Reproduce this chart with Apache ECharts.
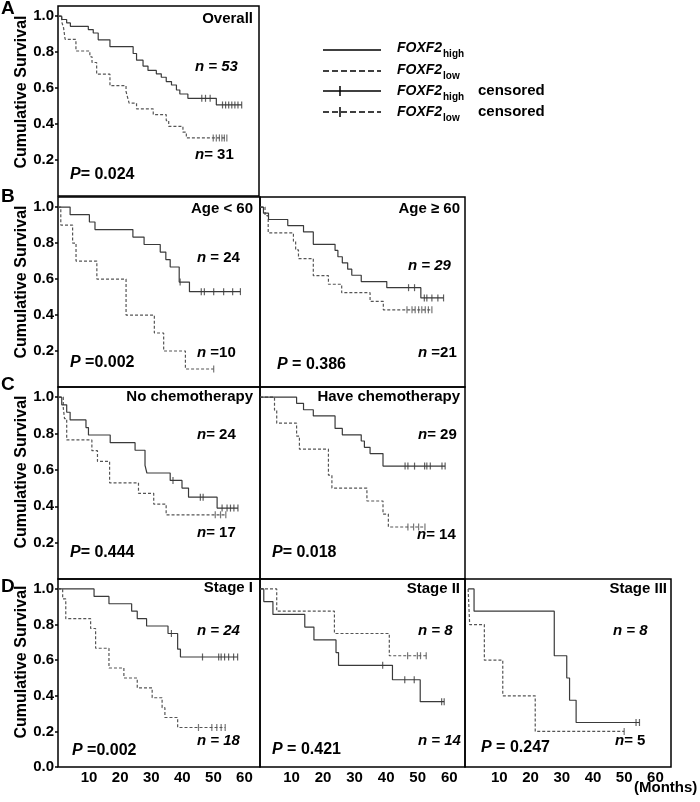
<!DOCTYPE html>
<html><head><meta charset="utf-8">
<script src="https://cdn.jsdelivr.net/npm/echarts@6/dist/echarts.min.js"></script>
<style>html,body{margin:0;padding:0;background:#fff}#c{width:700px;height:802px}</style>
</head><body><div id="c"></div>
<script>
// ---------------- DATA (months, cumulative survival) ----------------
const xTicks = [10, 20, 30, 40, 50, 60];
const yTicks = [0.2, 0.4, 0.6, 0.8, 1.0];
const yTicksD = [0.0, 0.2, 0.4, 0.6, 0.8, 1.0];

// A: Overall
const A_hi_t = [1.2, 2.8, 4.0, 9.8, 11.4, 13.0, 16.8, 24.3, 25.4, 27.5, 29.1, 31.8, 33.4, 35.0, 36.7, 38.3, 39.4, 42.0, 51.2];
const A_hi_s = [0.981, 0.962, 0.943, 0.925, 0.906, 0.868, 0.830, 0.792, 0.755, 0.722, 0.698, 0.679, 0.660, 0.636, 0.617, 0.589, 0.567, 0.543, 0.506];
const A_hi_c = [46.5, 47.7, 49.2, 53.2, 54.2, 55.2, 56.2, 57.2, 58.2, 59.4];
const A_lo_t = [1.2, 1.8, 2.3, 5.8, 10.3, 11.0, 12.5, 16.8, 22.0, 22.5, 23.0, 25.4, 30.8, 35.0, 35.8, 40.4, 41.5];
const A_lo_s = [0.968, 0.935, 0.871, 0.806, 0.774, 0.742, 0.677, 0.613, 0.581, 0.548, 0.516, 0.484, 0.452, 0.419, 0.387, 0.355, 0.323];
const A_lo_c = [50.2, 51.2, 52.2, 53.0, 53.8, 54.6];

// B1: Age < 60
const B1_hi_t = [3.9, 10.1, 11.9, 24.1, 27.7, 32.9, 34.7, 36.1, 39.0, 42.3];
const B1_hi_s = [0.958, 0.917, 0.875, 0.833, 0.792, 0.750, 0.708, 0.667, 0.583, 0.530];
const B1_hi_c = [39.3, 46.1, 47.1, 50.1, 53.3, 56.2, 58.7];
const B1_lo_t = [0.9, 4.7, 5.8, 12.5, 21.9, 31.0, 34.0, 41.0];
const B1_lo_s = [0.9, 0.8, 0.7, 0.6, 0.4, 0.3, 0.2, 0.1];
const B1_lo_c = [50.1];

// B2: Age >= 60
const B2_hi_t = [1.1, 2.7, 8.8, 13.8, 16.9, 23.8, 24.7, 26.1, 27.8, 29.1, 32.1, 40.2, 51.0];
const B2_hi_s = [0.966, 0.931, 0.897, 0.862, 0.793, 0.759, 0.724, 0.690, 0.655, 0.621, 0.586, 0.552, 0.495];
const B2_hi_c = [47.1, 49.0, 52.1, 52.9, 54.5, 56.4, 58.2];
const B2_lo_t = [1.6, 2.6, 10.6, 11.3, 12.2, 16.9, 21.7, 25.9, 34.9, 39.1];
const B2_lo_s = [0.952, 0.857, 0.810, 0.762, 0.714, 0.619, 0.571, 0.524, 0.476, 0.429];
const B2_lo_c = [46.6, 48.2, 49.2, 50.3, 51.3, 52.4, 53.4, 54.5];

// C1: No chemotherapy
const C1_hi_t = [1.2, 2.8, 3.9, 9.0, 9.8, 16.8, 24.8, 28.0, 28.6, 36.1, 39.9, 42.0, 51.2];
const C1_hi_s = [0.958, 0.917, 0.875, 0.833, 0.792, 0.750, 0.708, 0.625, 0.583, 0.542, 0.500, 0.450, 0.390];
const C1_hi_c = [37.0, 45.8, 46.7, 52.8, 54.4, 55.5, 56.6, 57.9];
const C1_lo_t = [1.7, 2.1, 2.8, 10.9, 12.7, 16.6, 25.9, 30.8, 34.8];
const C1_lo_s = [0.941, 0.882, 0.765, 0.706, 0.647, 0.529, 0.471, 0.412, 0.353];
const C1_lo_c = [50.6, 52.3, 54.0];

// C2: Have chemotherapy
const C2_hi_t = [11.6, 13.8, 16.9, 23.8, 26.1, 32.1, 33.1, 34.9, 39.0];
const C2_hi_s = [0.966, 0.931, 0.897, 0.828, 0.793, 0.759, 0.724, 0.690, 0.621];
const C2_hi_c = [46.0, 46.9, 49.0, 52.2, 52.9, 54.0, 57.7, 58.7];
const C2_lo_t = [4.6, 5.3, 11.6, 12.5, 21.7, 22.8, 33.9, 39.0, 40.7];
const C2_lo_s = [0.929, 0.857, 0.786, 0.714, 0.571, 0.500, 0.429, 0.357, 0.286];
const C2_lo_c = [46.9, 48.7, 50.3, 52.3];

// D1: Stage I
const D1_hi_t = [11.6, 16.4, 23.7, 25.5, 28.5, 35.4, 38.5, 39.4];
const D1_hi_s = [0.958, 0.917, 0.875, 0.833, 0.792, 0.750, 0.662, 0.618];
const D1_hi_c = [36.5, 46.5, 51.7, 52.5, 53.6, 54.9, 56.5, 57.8];
const D1_lo_t = [1.5, 2.5, 10.5, 12.1, 16.4, 21.2, 25.5, 30.3, 33.5, 34.4, 38.5];
const D1_lo_s = [0.944, 0.833, 0.778, 0.667, 0.556, 0.500, 0.444, 0.389, 0.333, 0.278, 0.222];
const D1_lo_c = [45.2, 49.5, 51.1, 52.5, 53.8];

// D2: Stage II
const D2_hi_t = [1.2, 4.1, 14.2, 17.1, 24.1, 24.9, 42.0, 50.8];
const D2_hi_s = [0.929, 0.857, 0.786, 0.714, 0.643, 0.571, 0.490, 0.367];
const D2_hi_c = [38.9, 45.9, 48.9, 57.6, 58.4];
const D2_lo_t = [5.3, 23.6, 41.0];
const D2_lo_s = [0.875, 0.750, 0.625];
const D2_lo_c = [46.8, 49.9, 50.9, 52.7];

// D3: Stage III
const D3_hi_t = [1.9, 27.6, 31.6, 32.5, 34.6];
const D3_hi_s = [0.875, 0.625, 0.500, 0.375, 0.250];
const D3_hi_c = [53.8, 54.9];
const D3_lo_t = [0.5, 5.2, 11.1, 21.5];
const D3_lo_s = [0.8, 0.6, 0.4, 0.2];
const D3_lo_c = [50.0];

// ---------------- LAYOUT ----------------
const FONT = "'Liberation Sans', Arial, sans-serif";
const panels = [
  {left: 58,  top: 6,   width: 201, height: 190, yLab: true,  xLab: false, xmin: 0,  yT: yTicks,  d: [A_hi_t, A_hi_s, A_hi_c, A_lo_t, A_lo_s, A_lo_c]},
  {left: 58,  top: 197, width: 202, height: 190, yLab: true,  xLab: false, xmin: 0,  yT: yTicks,  d: [B1_hi_t, B1_hi_s, B1_hi_c, B1_lo_t, B1_lo_s, B1_lo_c]},
  {left: 260, top: 197, width: 205, height: 190, yLab: false, xLab: false, xmin: 0,  yT: yTicks,  d: [B2_hi_t, B2_hi_s, B2_hi_c, B2_lo_t, B2_lo_s, B2_lo_c]},
  {left: 58,  top: 387, width: 202, height: 192, yLab: true,  xLab: false, xmin: 0,  yT: yTicks,  d: [C1_hi_t, C1_hi_s, C1_hi_c, C1_lo_t, C1_lo_s, C1_lo_c]},
  {left: 260, top: 387, width: 205, height: 192, yLab: false, xLab: false, xmin: 0,  yT: yTicks,  d: [C2_hi_t, C2_hi_s, C2_hi_c, C2_lo_t, C2_lo_s, C2_lo_c]},
  {left: 58,  top: 579, width: 202, height: 188, yLab: true,  xLab: true,  xmin: 0,  yT: yTicksD, d: [D1_hi_t, D1_hi_s, D1_hi_c, D1_lo_t, D1_lo_s, D1_lo_c]},
  {left: 260, top: 579, width: 205, height: 188, yLab: false, xLab: true,  xmin: 0,  yT: yTicksD, d: [D2_hi_t, D2_hi_s, D2_hi_c, D2_lo_t, D2_lo_s, D2_lo_c]},
  {left: 465, top: 579, width: 206, height: 188, yLab: false, xLab: true,  xmin: -1, yT: yTicksD, d: [D3_hi_t, D3_hi_s, D3_hi_c, D3_lo_t, D3_lo_s, D3_lo_c]}
];

function survAt(ts, ss, t) {
  let v = 1;
  for (let k = 0; k < ts.length; k++) if (ts[k] <= t) v = ss[k];
  return v;
}
function steps(ts, ss, cs) {
  const pts = [[0, 1]];
  for (let k = 0; k < ts.length; k++) pts.push([ts[k], ss[k]]);
  const end = Math.max(ts[ts.length - 1], cs.length ? cs[cs.length - 1] : 0);
  pts.push([end, ss[ss.length - 1]]);
  return pts;
}

const HI = '#3a3a3a', LO = '#555555';
const grids = [], xAxes = [], yAxes = [], series = [];
panels.forEach((p, i) => {
  grids.push({left: p.left, top: p.top, width: p.width, height: p.height, show: true,
    borderColor: '#000', borderWidth: 1.5, backgroundColor: 'transparent'});
  xAxes.push({gridIndex: i, type: 'value', min: p.xmin, max: 65,
    axisLine: {show: false}, splitLine: {show: false}, axisTick: {show: false},
    axisLabel: {show: p.xLab, customValues: xTicks, fontSize: 15, fontWeight: 'bold', color: '#000', margin: 3, fontFamily: FONT}});
  yAxes.push({gridIndex: i, type: 'value', min: 0, max: 1.056,
    axisLine: {show: false}, splitLine: {show: false},
    axisTick: {show: p.yLab, length: 3, customValues: p.yT, lineStyle: {color: '#000', width: 1.5}},
    axisLabel: {show: p.yLab, customValues: p.yT, formatter: v => v.toFixed(1), fontSize: 15, fontWeight: 'bold', color: '#000', margin: 4, fontFamily: FONT}});
  const [ht, hs, hc, lt, ls, lc] = p.d;
  series.push({type: 'line', xAxisIndex: i, yAxisIndex: i, step: 'end', symbol: 'none', silent: true,
    data: steps(ht, hs, hc), lineStyle: {color: HI, width: 1.2}, z: 3});
  series.push({type: 'line', xAxisIndex: i, yAxisIndex: i, step: 'end', symbol: 'none', silent: true,
    data: steps(lt, ls, lc), lineStyle: {color: LO, width: 1.2, type: [3, 2]}, z: 2});
  series.push({type: 'scatter', xAxisIndex: i, yAxisIndex: i, symbol: 'rect', symbolSize: [1.2, 7], silent: true,
    data: hc.map(t => [t, survAt(ht, hs, t)]), itemStyle: {color: HI}, z: 4});
  series.push({type: 'scatter', xAxisIndex: i, yAxisIndex: i, symbol: 'rect', symbolSize: [1.2, 7], silent: true,
    data: lc.map(t => [t, survAt(lt, ls, t)]), itemStyle: {color: LO}, z: 4});
});

// ---------------- TEXT ----------------
const rich = {
  i: {fontStyle: 'italic', fontWeight: 'bold', fontSize: 15, fontFamily: FONT, fill: '#000'},
  r: {fontWeight: 'bold', fontSize: 15, fontFamily: FONT, fill: '#000'},
  pi: {fontStyle: 'italic', fontWeight: 'bold', fontSize: 16, fontFamily: FONT, fill: '#000'},
  pr: {fontWeight: 'bold', fontSize: 16, fontFamily: FONT, fill: '#000'}
};
function txt(x, y, text, align, extra) {
  return Object.assign({type: 'text', x: x, y: y, silent: true, z: 10,
    style: {text: text, rich: rich, textAlign: align || 'left', textVerticalAlign: 'middle',
      font: 'bold 15px ' + FONT, fill: '#000'}}, extra || {});
}
const titles = [
  [253, 19, 'Overall'], [253, 209, 'Age < 60'], [460, 209, 'Age \u2265 60'],
  [253, 397, 'No chemotherapy'], [460, 397, 'Have chemotherapy'],
  [253, 588, 'Stage I'], [460, 589, 'Stage II'], [667, 589, 'Stage III']
];
const nLabels = [
  [195, 67, '{i|n = 53}'], [195, 155, '{i|n}{r|= 31}'],
  [197, 258, '{i|n}{r| = 24}'], [197, 353, '{i|n}{r| =10}'],
  [408, 266, '{i|n = 29}'], [418, 353, '{i|n}{r| =21}'],
  [197, 435, '{i|n}{r|= 24}'], [197, 533, '{i|n}{r|= 17}'],
  [418, 435, '{i|n}{r|= 29}'], [417, 535, '{i|n}{r|= 14}'],
  [197, 631, '{i|n = 24}'], [197, 741, '{i|n = 18}'],
  [418, 631, '{i|n = 8}'], [418, 741, '{i|n = 14}'],
  [613, 631, '{i|n = 8}'], [615, 741, '{i|n}{r|= 5}']
];
const pLabels = [
  [70, 175, '{pi|P}{pr|= 0.024}'], [70, 363, '{pi|P}{pr| =0.002}'], [277, 365, '{pi|P}{pr| = 0.386}'],
  [70, 553, '{pi|P}{pr|= 0.444}'], [272, 553, '{pi|P}{pr|= 0.018}'],
  [72, 751, '{pi|P}{pr| =0.002}'], [272, 750, '{pi|P}{pr| = 0.421}'], [481, 748, '{pi|P}{pr| = 0.247}']
];
const graphic = [];
titles.forEach(t => graphic.push(txt(t[0], t[1], t[2], 'right')));
nLabels.forEach(t => graphic.push(txt(t[0], t[1], t[2], 'left')));
pLabels.forEach(t => graphic.push(txt(t[0], t[1], t[2], 'left')));
// panel letters
[['A', 9], ['B', 197], ['C', 385], ['D', 587]].forEach(l =>
  graphic.push({type: 'text', x: 1, y: l[1], silent: true,
    style: {text: l[0], font: 'bold 19px ' + FONT, fill: '#000', textVerticalAlign: 'middle'}}));
// y-axis titles
[92, 282, 472, 662].forEach(y =>
  graphic.push({type: 'text', x: 22, y: y, rotation: Math.PI / 2, silent: true,
    style: {text: 'Cumulative Survival', font: 'bold 16px ' + FONT, fill: '#000', textAlign: 'center', textVerticalAlign: 'middle'}}));
graphic.push({type: 'text', x: 634, y: 788, silent: true,
  style: {text: '(Months)', font: 'bold 15px ' + FONT, fill: '#000', textVerticalAlign: 'middle'}});

// legend
const legRows = [[50, 48, 'high', false, false], [71, 70, 'low', true, false], [91, 91, 'high', false, true], [112, 112, 'low', true, true]];
legRows.forEach(r => {
  graphic.push({type: 'line', silent: true, shape: {x1: 323, y1: r[0], x2: 381, y2: r[0]},
    style: {stroke: '#000', lineWidth: 1.5, lineDash: r[3] ? [6, 3] : null}});
  if (r[4]) graphic.push({type: 'line', silent: true, shape: {x1: 340, y1: r[0] - 5, x2: 340, y2: r[0] + 5},
    style: {stroke: '#000', lineWidth: 1.5}});
  graphic.push({type: 'text', x: 397, y: r[1], silent: true,
    style: {text: 'FOXF2', font: 'italic bold 14px ' + FONT, fill: '#000', textVerticalAlign: 'middle'}});
  graphic.push({type: 'text', x: 443, y: r[1] + 6, silent: true,
    style: {text: r[2], font: 'bold 10px ' + FONT, fill: '#000', textVerticalAlign: 'middle'}});
  if (r[4]) graphic.push({type: 'text', x: 478, y: r[1], silent: true,
    style: {text: 'censored', font: 'bold 15px ' + FONT, fill: '#000', textVerticalAlign: 'middle'}});
});

const chart = echarts.init(document.getElementById('c'), null, {renderer: 'canvas'});
chart.setOption({
  animation: false,
  backgroundColor: '#fff',
  grid: grids, xAxis: xAxes, yAxis: yAxes, series: series, graphic: graphic
});
</script>
</body></html>
